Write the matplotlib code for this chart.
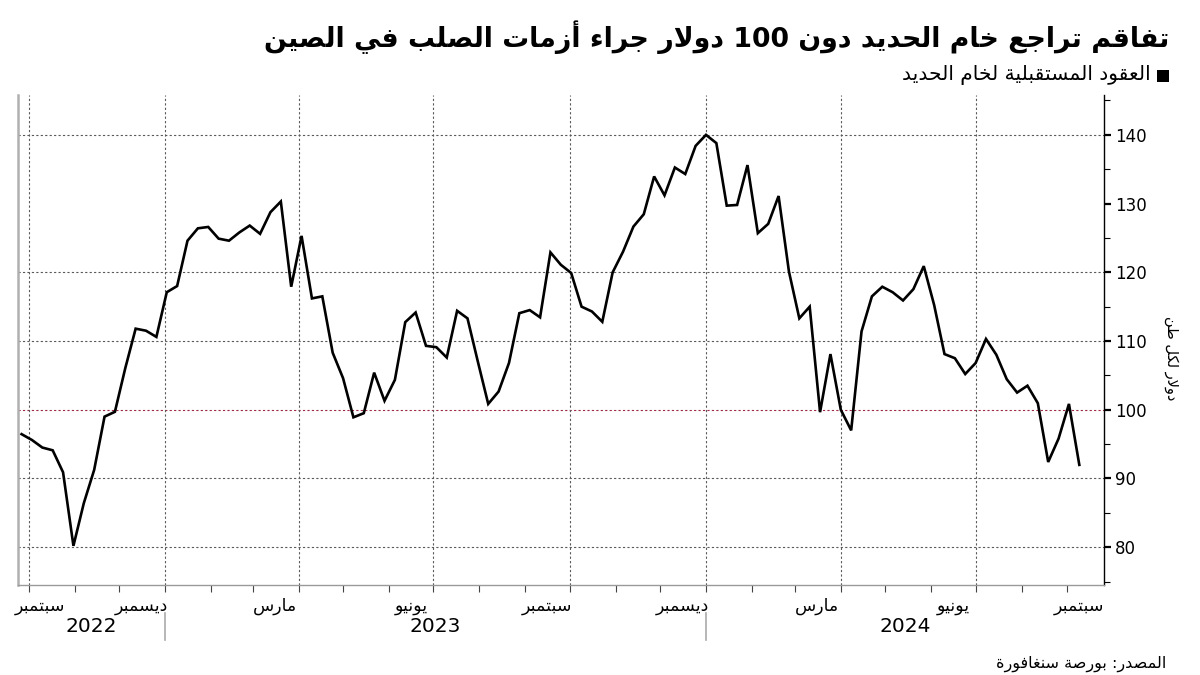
import re
import datetime as dt
import numpy as np
import pandas as pd
import matplotlib
matplotlib.use("Agg")
import matplotlib.pyplot as plt
import matplotlib.dates as mdates
from matplotlib.transforms import blended_transform_factory
from matplotlib.ticker import MultipleLocator

# ---------------- data ----------------
title_text = "تفاقم تراجع خام الحديد دون 100 دولار جراء أزمات الصلب في الصين"
legend_text = "العقود المستقبلية لخام الحديد"
ylabel_text = "دولار لكل طن"
source_text = "المصدر: بورصة سنغافورة"
month_names = ["سبتمبر", "ديسمبر", "مارس", "يونيو", "سبتمبر", "ديسمبر", "مارس", "يونيو", "سبتمبر"]
month_dates = ["2022-09-16", "2022-12-16", "2023-03-16", "2023-06-16", "2023-09-16",
               "2023-12-16", "2024-03-16", "2024-06-16", "2024-09-16"]
years = ["2022", "2023", "2024"]
y_ticks = [80, 90, 100, 110, 120, 130, 140]
y_grid = [80, 90, 110, 120, 140]
start_date = "2022-09-26"

prices = [96.45, 95.6, 94.5, 94.1, 90.9, 80.2, 86.4, 91.25, 99.0, 99.7,
          106.05, 111.8, 111.5, 110.6, 117.1, 118.0, 124.6, 126.4, 126.6, 124.9,
          124.6, 125.8, 126.8, 125.6, 128.75, 130.3, 117.9, 125.3, 116.2, 116.5,
          108.3, 104.6, 98.9, 99.5, 105.4, 101.3, 104.35, 112.75, 114.15, 109.3,
          109.1, 107.6, 114.4, 113.3, 107.0, 100.85, 102.65, 106.8, 114.05, 114.5,
          113.45, 122.9, 121.1, 119.9, 115.0, 114.3, 112.8, 120.0, 123.0, 126.65,
          128.45, 133.95, 131.2, 135.25, 134.3, 138.4, 140.0, 138.8, 129.7, 129.8,
          135.6, 125.7, 127.05, 131.1, 120.1, 113.3, 115.0, 99.65, 108.1, 100.0,
          97.0, 111.4, 116.5, 117.9, 117.1, 115.9, 117.55, 120.9, 115.25, 108.1,
          107.5, 105.2, 106.8, 110.3, 108.0, 104.45, 102.5, 103.5, 100.95, 92.4,
          95.8, 100.85, 91.98]
dates = pd.date_range(start=start_date, periods=len(prices), freq="7D")

# ---------------- Arabic shaping (presentation forms + RTL order) ----------------
_AR = "ءآأؤإئابةتثجحخدذرزسشصضطظعغفقكلمنهوىي"
_NF = [1, 2, 2, 2, 2, 4, 2, 4, 2] + [4] * 5 + [2] * 4 + [4] * 15 + [2, 2, 4]
_FORMS, _NFORM = {}, {}
_code = 0xFE80
for _ch, _n in zip(_AR, _NF):
    f = [_code + k for k in range(_n)]
    if _n == 1:
        f = f * 4
    elif _n == 2:
        f = [f[0], f[1], f[0], f[1]]
    _FORMS[_ch] = f
    _NFORM[_ch] = _n
    _code += _n
_LA = {"آ": (0xFEF5, 0xFEF6), "أ": (0xFEF7, 0xFEF8), "إ": (0xFEF9, 0xFEFA), "ا": (0xFEFB, 0xFEFC)}


def ar(text):
    toks = []
    i = 0
    while i < len(text):
        c = text[i]
        if c == "ل" and i + 1 < len(text) and text[i + 1] in _LA:
            toks.append(("LA", text[i + 1]))
            i += 2
        else:
            toks.append(("C", c))
            i += 1

    def jl(t):
        return t[0] == "C" and _NFORM.get(t[1], 0) == 4

    def jr(t):
        return t[0] == "LA" or _NFORM.get(t[1], 0) >= 2

    out = []
    for j, t in enumerate(toks):
        prev = toks[j - 1] if j > 0 else None
        nxt = toks[j + 1] if j + 1 < len(toks) else None
        jp = prev is not None and jl(prev) and jr(t)
        jn = nxt is not None and jl(t) and jr(nxt)
        if t[0] == "LA":
            out.append(chr(_LA[t[1]][1 if jp else 0]))
        elif t[1] in _FORMS:
            idx = 3 if (jp and jn) else 1 if jp else 2 if jn else 0
            out.append(chr(_FORMS[t[1]][idx]))
        else:
            out.append(t[1])
    s = "".join(out)[::-1]
    s = re.sub(r"[0-9]+", lambda m: m.group(0)[::-1], s)
    return s


# ---------------- figure ----------------
W, H = 1200, 675
fig = plt.figure(figsize=(W / 100, H / 100), dpi=100)
fig.patch.set_facecolor("white")
ax = fig.add_axes([18 / W, 1 - 585 / H, (1104 - 18) / W, (585 - 95) / H])


def fx(px):
    return px / W


def fy(py):
    return 1 - py / H


# grid
grid_col = "#5a5a5a"
for v in y_grid:
    ax.axhline(v, color=grid_col, lw=0.8, ls=(0, (2, 2)), zorder=1)
ax.axhline(100, color="#9e2a47", lw=0.8, ls=(0, (2, 2)), zorder=1)

q_starts = pd.date_range("2022-10-01", "2024-09-01", freq="QS-OCT")
for d in q_starts:
    ax.axvline(d, color=grid_col, lw=0.8, ls=(0, (2, 2)), zorder=1)

ax.plot(dates, prices, color="black", lw=1.9, zorder=3, solid_joinstyle="miter")

ax.set_xlim(dt.datetime(2022, 9, 23, 14), dt.datetime(2024, 9, 25, 16))
ax.set_ylim(74.5, 145.8)

# spines
ax.spines["top"].set_visible(False)
ax.spines["left"].set_color("#b0b0b0")
ax.spines["left"].set_linewidth(1.8)
ax.spines["bottom"].set_color("#9a9a9a")
ax.spines["bottom"].set_linewidth(1.0)
ax.spines["right"].set_color("black")
ax.spines["right"].set_linewidth(1.0)

# y axis on right
ax.yaxis.tick_right()
ax.set_yticks(y_ticks)
ax.set_yticklabels([str(v) for v in y_ticks], fontsize=12, family="DejaVu Sans")
ax.yaxis.set_minor_locator(MultipleLocator(5))
ax.tick_params(axis="y", which="major", length=5, width=1.6, color="black", pad=3, left=False)
ax.tick_params(axis="y", which="minor", length=4, width=0.8, color="black", left=False)

# x axis ticks: monthly
ax.xaxis.set_major_locator(mdates.MonthLocator())
ax.xaxis.set_major_formatter(plt.NullFormatter())
ax.tick_params(axis="x", which="major", length=5, width=0.8, color="#444444")

# month labels
tr = blended_transform_factory(ax.transData, fig.transFigure)
n = len(month_names)
mfs = 12.5
for i, (name, d) in enumerate(zip(month_names, month_dates)):
    if i == 0:
        ax.text(fx(15), fy(606), ar(name), transform=fig.transFigure, ha="left", va="center",
                fontsize=mfs, family="DejaVu Sans")
    elif i == n - 1:
        ax.text(fx(1104), fy(606), ar(name), transform=fig.transFigure, ha="right", va="center",
                fontsize=mfs, family="DejaVu Sans")
    else:
        ax.text(pd.Timestamp(d), fy(606), ar(name), transform=tr, ha="center", va="center",
                fontsize=mfs, family="DejaVu Sans")

# years and separators
x0, x1 = ax.get_xlim()
for y in years:
    a = max(x0, mdates.date2num(dt.datetime(int(y), 1, 1)))
    b = min(x1, mdates.date2num(dt.datetime(int(y) + 1, 1, 1)))
    ax.text((a + b) / 2, fy(626), y, transform=tr, ha="center", va="center",
            fontsize=14.5, family="DejaVu Sans")
for y in years[1:]:
    d = mdates.date2num(dt.datetime(int(y), 1, 1))
    ax.plot([d, d], [fy(613), fy(640)], transform=tr, color="#aaaaaa", lw=1.2, clip_on=False)

# y label
fig.text(fx(1171), fy(358), ar(ylabel_text), rotation=-90, ha="center", va="center",
         fontsize=10.5, family="DejaVu Sans")

# title
fig.text(fx(1169), fy(37), ar(title_text), ha="right", va="center", fontsize=19.3,
         fontweight="bold", family="DejaVu Sans")

# legend
fig.patches.append(plt.Rectangle((fx(1157), fy(82)), 12 / W, 12 / H, transform=fig.transFigure,
                                 facecolor="black", edgecolor="none"))
fig.text(fx(1151), fy(75), ar(legend_text), ha="right", va="center", fontsize=14.5,
         family="DejaVu Sans")

# source
fig.text(fx(1166), fy(664), ar(source_text), ha="right", va="center", fontsize=11.5,
         family="DejaVu Sans")

fig.savefig("out.png", dpi=100, facecolor="white")
